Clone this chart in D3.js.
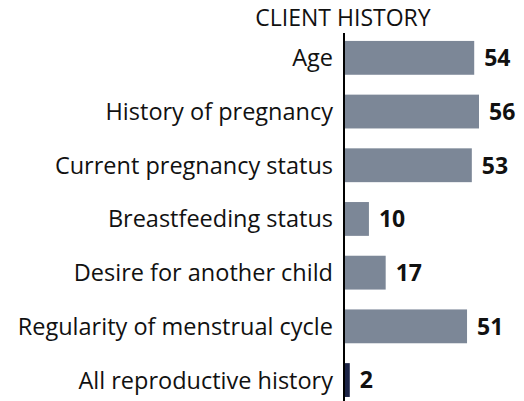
<!DOCTYPE html>
<html>
<head>
<meta charset="utf-8">
<script src="https://d3js.org/d3.v7.min.js"></script>
<style>
  body { margin: 0; background: #fff; }
  svg { display: block; }
  text { font-family: "Open Sans", sans-serif; fill: #111; }
</style>
</head>
<body>
<svg id="chart"></svg>
<script>
// chart data
const categories = [
  "Age",
  "History of pregnancy",
  "Current pregnancy status",
  "Breastfeeding status",
  "Desire for another child",
  "Regularity of menstrual cycle",
  "All reproductive history"
];
const values = [54, 56, 53, 10, 17, 51, 2];
const title = "CLIENT HISTORY";

const width = 524;
const height = 401;
const axisX = 345;

const svg = d3.select("#chart").attr("width", width).attr("height", height);

const xScale = d3.scaleLinear().domain([0, 56]).range([axisX, axisX + 134]);

const yScale = d3
  .scaleBand()
  .domain(categories)
  .range([31, 31 + 53.7 * categories.length])
  .paddingInner(0.37)
  .paddingOuter(0.185);

// bars
svg
  .selectAll("rect.bar")
  .data(categories)
  .enter()
  .append("rect")
  .attr("class", "bar")
  .attr("x", xScale(0))
  .attr("y", (d) => yScale(d))
  .attr("width", (d, i) => xScale(values[i]) - xScale(0))
  .attr("height", yScale.bandwidth())
  .attr("fill", (d, i) => (i === categories.length - 1 ? "#1c2446" : "#7c8797"));

// category labels
svg
  .selectAll("text.cat")
  .data(categories)
  .enter()
  .append("text")
  .attr("class", "cat")
  .attr("x", axisX - 12)
  .attr("y", (d) => yScale(d) + yScale.bandwidth() / 2)
  .attr("dy", "0.36em")
  .attr("text-anchor", "end")
  .style("font-size", "23.5px")
  .text((d) => d);

// value labels
svg
  .selectAll("text.val")
  .data(categories)
  .enter()
  .append("text")
  .attr("class", "val")
  .attr("x", (d, i) => xScale(values[i]) + 10)
  .attr("y", (d) => yScale(d) + yScale.bandwidth() / 2)
  .attr("dy", "0.36em")
  .style("font-size", "23px")
  .style("font-weight", "bold")
  .text((d, i) => values[i]);

// vertical axis line
svg
  .append("line")
  .attr("x1", axisX - 1)
  .attr("x2", axisX - 1)
  .attr("y1", 33)
  .attr("y2", 401)
  .attr("stroke", "#000")
  .attr("stroke-width", 2);

// title
svg
  .append("text")
  .attr("x", 343)
  .attr("y", 26)
  .attr("text-anchor", "middle")
  .style("font-size", "23px")
  .text(title);
</script>
</body>
</html>
